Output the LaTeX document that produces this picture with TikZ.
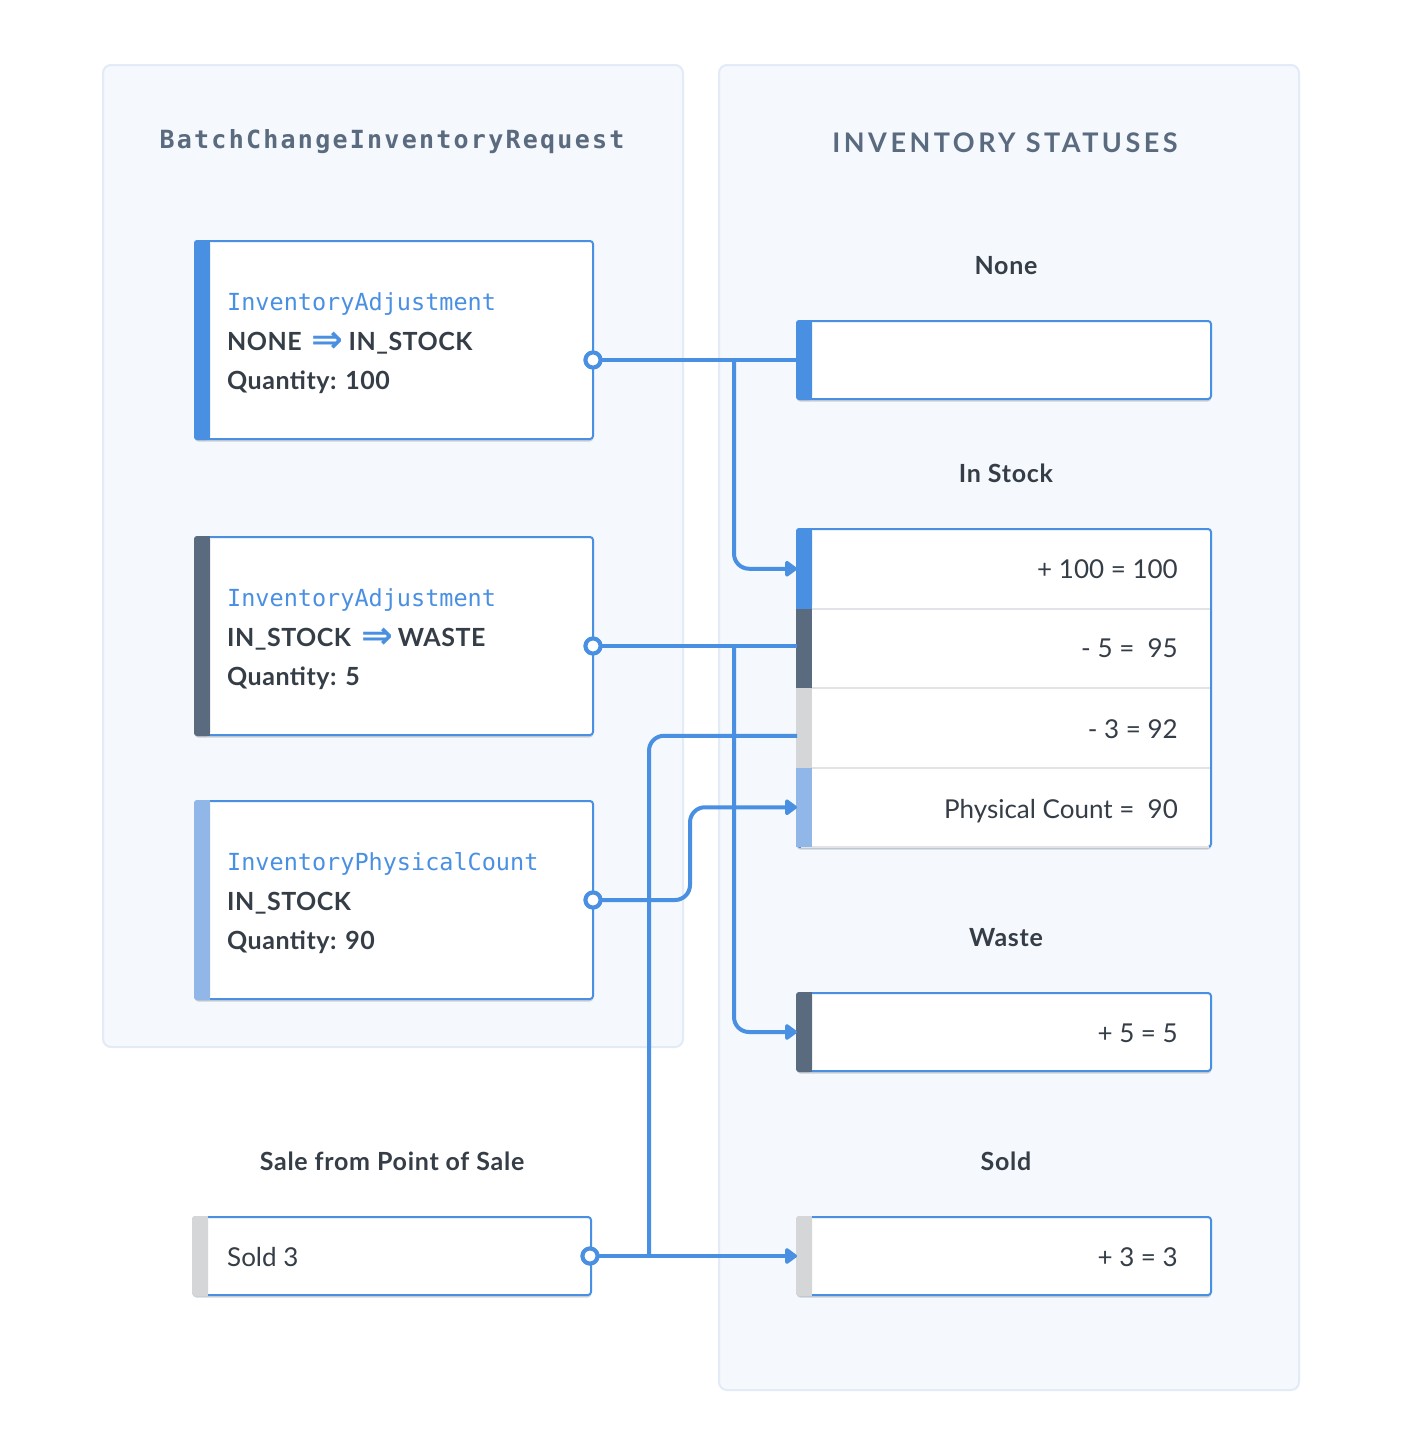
\documentclass[tikz,border=0pt]{standalone}
\usepackage{fontspec}
\setmainfont{Lato}
\newfontfamily\mono{DejaVu Sans Mono}
\newfontfamily\dejavu{DejaVu Sans}
\usetikzlibrary{arrows.meta,shadows}
\definecolor{blu}{HTML}{4A90E2}
\definecolor{slate}{HTML}{5B6B7F}
\definecolor{lblu}{HTML}{91B7E8}
\definecolor{lgray}{HTML}{D5D6D8}
\definecolor{ink}{HTML}{353D47}
\definecolor{panelfill}{HTML}{F5F8FD}
\definecolor{panelline}{HTML}{E2EBF7}
\definecolor{sep}{HTML}{E1E3E6}
\newcommand\sidebar[2]{%
  \fill[#2, rounded corners=3] ([xshift=-1,yshift=1]#1.north west) rectangle ([xshift=15,yshift=-1]#1.south west);
  \fill[#2] ([xshift=8,yshift=1]#1.north west) rectangle ([xshift=15,yshift=-1]#1.south west);}
\newcommand\fs[1]{\fontsize{#1}{#1}\selectfont}
\newcommand\darr{\hspace{10pt}\textcolor{blu}{\raisebox{-2pt}{\dejavu\bfseries\fs{38}⇒}}\hspace{5pt}}
\begin{document}
\begin{tikzpicture}[x=1pt,y=1pt,
  panel/.style={draw=panelline, line width=2, fill=panelfill, rounded corners=8},
  box/.style={draw=blu, line width=2, fill=white, rounded corners=3, inner sep=0, outer sep=0, anchor=north west,
    drop shadow={shadow xshift=0pt, shadow yshift=-2.5pt, opacity=0.16, fill=black}},
  row/.style={inner sep=0, outer sep=0, minimum width=414, minimum height=79.5, anchor=north west},
  port/.style={circle, draw=blu, fill=white, line width=4, minimum size=15, inner sep=0, outer sep=0},
  conn/.style={draw=blu, line width=4, rounded corners=15},
  arr/.style={-{Triangle[length=13pt,width=18pt,round]}},
  monotxt/.style={anchor=base west, inner sep=0, text=blu, font=\mono\fs{23.5}},
  boldtxt/.style={anchor=base west, inner sep=0, text=ink, font=\bfseries\addfontfeature{LetterSpace=2}\fs{25}},
  valtxt/.style={anchor=base east, inner sep=0, text=ink, font=\fs{26}},
  label/.style={anchor=base, inner sep=0, text=ink, font=\bfseries\addfontfeature{LetterSpace=3}\fs{25}}
]
\useasboundingbox (0,0) rectangle (1400,-1456);
\fill[white] (0,0) rectangle (1400,-1456);

% panels
\path[panel] (103,-65) rectangle (683,-1047);
\path[panel] (719,-65) rectangle (1299,-1390);

\node[anchor=base, inner sep=0, text=slate, font=\mono\bfseries\addfontfeature{LetterSpace=9}\fs{25}] (ltitle) at (392,-148) {BatchChangeInventoryRequest};
\node[anchor=base, inner sep=0, text=slate, font=\bfseries\addfontfeature{LetterSpace=13}\fs{27}] (rtitle) at (1005,-152) {INVENTORY STATUSES};

% left boxes
\node[box, minimum width=398, minimum height=198] (a1) at (195,-241) {};
\sidebar{a1}{blu}
\node[monotxt] (a1t) at (227,-310) {InventoryAdjustment};
\node[boldtxt] (a1s) at (227,-350) {NONE\darr{}IN\_STOCK};
\node[boldtxt] (a1q) at (227,-389) {Quantity: 100};

\node[box, minimum width=398, minimum height=198] (a2) at (195,-537) {};
\sidebar{a2}{slate}
\node[monotxt] (a2t) at (227,-606) {InventoryAdjustment};
\node[boldtxt] (a2s) at (227,-646) {IN\_STOCK\darr{}WASTE};
\node[boldtxt] (a2q) at (227,-685) {Quantity: 5};

\node[box, minimum width=398, minimum height=198] (a3) at (195,-801) {};
\sidebar{a3}{lblu}
\node[monotxt] (a3t) at (227,-870) {InventoryPhysicalCount};
\node[boldtxt] (a3s) at (227,-910) {IN\_STOCK};
\node[boldtxt] (a3q) at (227,-949) {Quantity: 90};

\node[label] (salel) at (392,-1170) {Sale from Point of Sale};
\node[box, minimum width=398, minimum height=78] (a4) at (193,-1217) {};
\sidebar{a4}{lgray}
\node[anchor=base west, inner sep=0, text=ink, font=\fs{26}] (a4t) at (227,-1266) {Sold 3};

% right boxes
\node[label] (nonel) at (1006,-274) {None};
\node[box, minimum width=414, minimum height=78] (none) at (797,-321) {};
\sidebar{none}{blu}

\node[label] (stockl) at (1006,-482) {In Stock};
\node[box, minimum width=414, minimum height=318] (stock) at (797,-529) {};
\draw[sep, line width=2] ([xshift=4]stock.south west) -- ([xshift=-2]stock.south east);
\node[row] (is1) at (797,-529) {};
\node[row] (is2) at (797,-608.5) {};
\node[row] (is3) at (797,-688) {};
\node[row] (is4) at (797,-767.5) {};
\draw[sep, line width=2] (is2.north west) -- ([xshift=-1]is2.north east);
\draw[sep, line width=2] (is3.north west) -- ([xshift=-1]is3.north east);
\draw[sep, line width=2] (is4.north west) -- ([xshift=-1]is4.north east);
\fill[blu, rounded corners=3] ([xshift=-1,yshift=1]is1.north west) rectangle ([xshift=15]is1.south west);
\fill[blu] ([xshift=8,yshift=1]is1.north west) rectangle ([xshift=15]is1.south west);
\fill[blu] ([xshift=-1]is1.west) rectangle ([xshift=15]is1.south west);
\fill[slate] ([xshift=-1]is2.north west) rectangle ([xshift=15]is2.south west);
\fill[lgray] ([xshift=-1]is3.north west) rectangle ([xshift=15]is3.south west);
\fill[lblu] ([xshift=-1]is4.north west) rectangle ([xshift=15]is4.south west);
\node[valtxt] (v1) at (1178,-578) {+ 100 = 100};
\node[valtxt] (v2) at (1178,-657) {- 5 = \ 95};
\node[valtxt] (v3) at (1178,-738) {- 3 = 92};
\node[valtxt] (v4) at (1178,-818) {Physical Count = \ 90};

\node[label] (wastel) at (1006,-946) {Waste};
\node[box, minimum width=414, minimum height=78] (waste) at (797,-993) {};
\sidebar{waste}{slate}
\node[valtxt] (v5) at (1178,-1042) {+ 5 = 5};

\node[label] (soldl) at (1006,-1170) {Sold};
\node[box, minimum width=414, minimum height=78] (sold) at (797,-1217) {};
\sidebar{sold}{lgray}
\node[valtxt] (v6) at (1178,-1266) {+ 3 = 3};

% ports
\node[port] (p1) at ([yshift=-20]a1.east) {};
\node[port] (p2) at ([yshift=-10]a2.east) {};
\node[port] (p3) at (a3.east) {};
\node[port] (p4) at ([xshift=-1]a4.east) {};

% junctions
\coordinate (j1) at (734,-360);
\coordinate (j2) at (734,-646);
\coordinate (k3) at (690,-900);
\coordinate (j4) at (649,-1256);
\coordinate (t3) at ([yshift=-8]is3.west);

% connectors
\draw[conn] (p1) -- (none.west);
\draw[conn,arr] (j1) |- (is1.west);
\draw[conn] (p2) -- (p2 -| is2.west);
\draw[conn,arr] (j2) |- (waste.west);
\draw[conn,arr] (p3) -- (k3) |- (is4.west);
\draw[conn,arr] (p4) -- (sold.west);
\draw[conn] (j4) |- (t3);

% redraw ports on top
\node[port] at (p1) {};
\node[port] at (p2) {};
\node[port] at (p3) {};
\node[port] at (p4) {};
\end{tikzpicture}
\end{document}
